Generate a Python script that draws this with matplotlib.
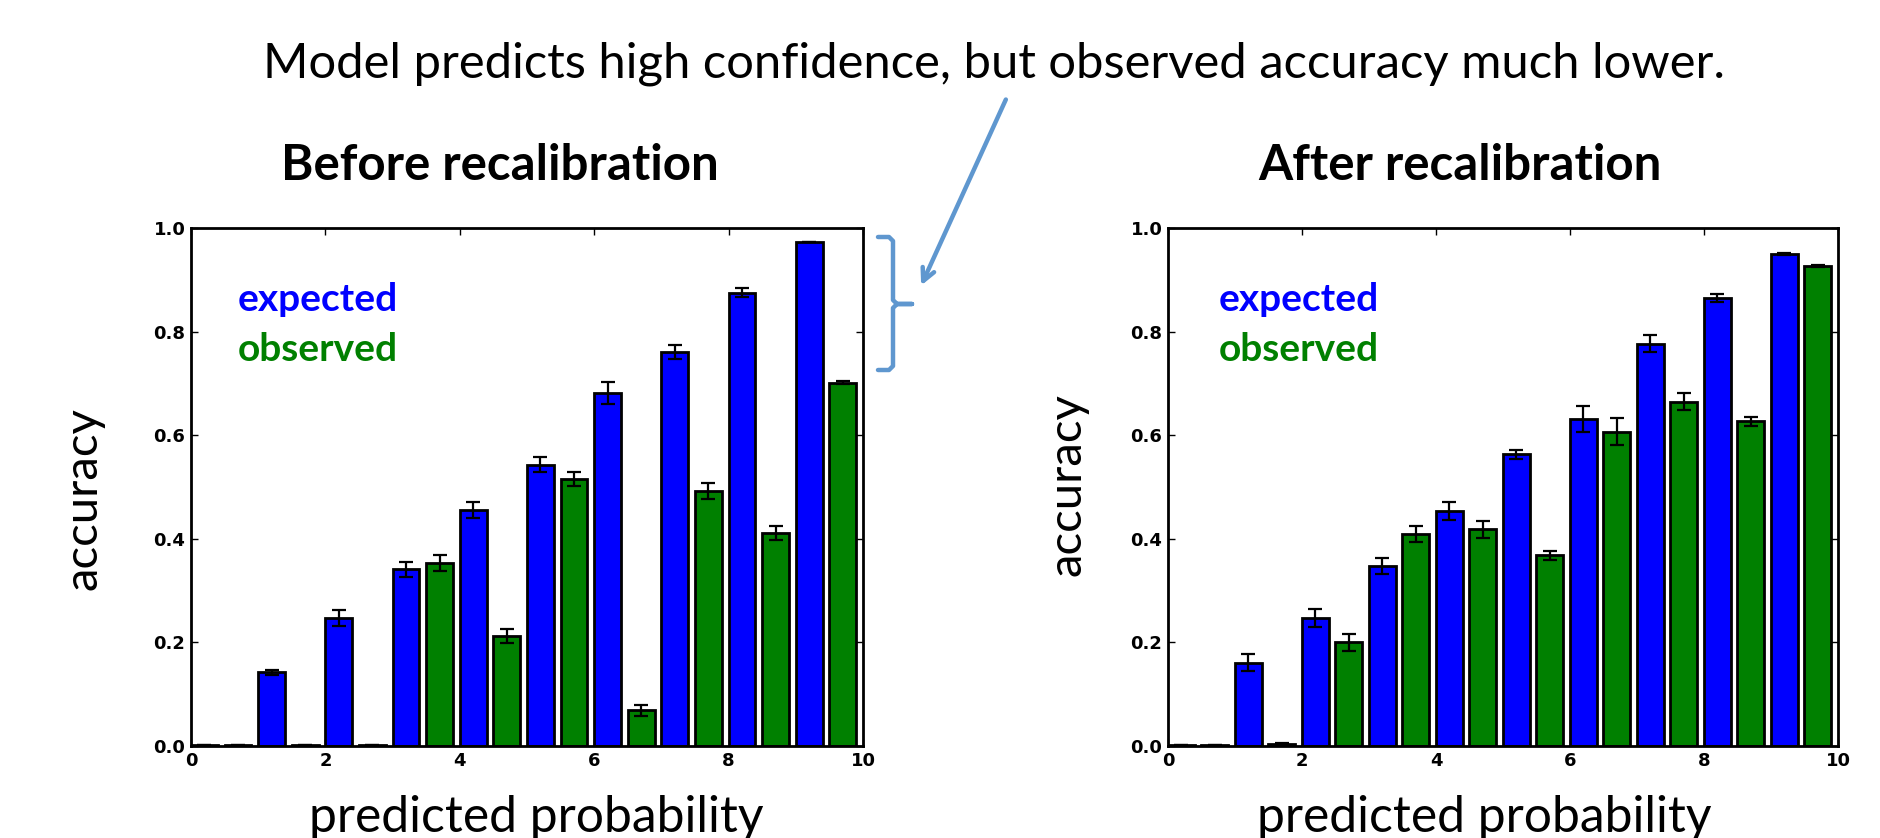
# -*- coding: utf-8 -*-

import matplotlib
matplotlib.use("Agg")
import matplotlib.pyplot as plt
from matplotlib.lines import Line2D
import numpy as np

# bin index (left edge of the expected bar), observed bar sits half a bin later
bins = [0, 1, 2, 3, 4, 5, 6, 7, 8, 9]

before_expected = [0.002, 0.142, 0.247, 0.341, 0.456, 0.543, 0.681, 0.761, 0.875, 0.973]
before_expected_err = [0.0, 0.004, 0.015, 0.014, 0.015, 0.015, 0.021, 0.013, 0.009, 0.0]
before_observed = [0.002, 0.002, 0.002, 0.353, 0.212, 0.515, 0.069, 0.492, 0.411, 0.701]
before_observed_err = [0.0, 0.0, 0.0, 0.015, 0.013, 0.014, 0.011, 0.015, 0.013, 0.003]

after_expected = [0.002, 0.161, 0.247, 0.348, 0.454, 0.563, 0.631, 0.777, 0.865, 0.950]
after_expected_err = [0.0, 0.017, 0.017, 0.015, 0.017, 0.009, 0.025, 0.016, 0.007, 0.002]
after_observed = [0.001, 0.003, 0.200, 0.409, 0.418, 0.368, 0.607, 0.665, 0.627, 0.927]
after_observed_err = [0.0, 0.002, 0.016, 0.015, 0.017, 0.008, 0.026, 0.017, 0.009, 0.002]

xticks = [0, 2, 4, 6, 8, 10]
yticks = [0.0, 0.2, 0.4, 0.6, 0.8, 1.0]

BLUE = "#0000ff"
GREEN = "#008000"
NOTE = "#5f97cf"
TXT = ["Lato", "DejaVu Sans"]

W, H = 1881, 838


def draw_panel(ax, exp, exp_err, obs, obs_err):
    x = np.array(bins, dtype=float)
    w = 0.4
    ax.bar(x, exp, width=w, align="edge", color=BLUE, edgecolor="black", linewidth=2)
    ax.bar(x + 0.5, obs, width=w, align="edge", color=GREEN, edgecolor="black", linewidth=2)
    ax.errorbar(x + w / 2, exp, yerr=exp_err, fmt="none", ecolor="black",
                elinewidth=1.6, capsize=5, capthick=1.6)
    ax.errorbar(x + 0.5 + w / 2, obs, yerr=obs_err, fmt="none", ecolor="black",
                elinewidth=1.6, capsize=5, capthick=1.6)
    ax.set_xlim(0, 10)
    ax.set_ylim(0, 1)
    ax.set_xticks(xticks)
    ax.set_yticks(yticks)
    ax.set_xticklabels([str(t) for t in xticks])
    ax.set_yticklabels(["%.1f" % t for t in yticks])
    ax.tick_params(direction="in", length=5, width=1, top=True, right=True,
                   labelsize=13, pad=4, colors="black")
    for lab in ax.get_xticklabels() + ax.get_yticklabels():
        lab.set_fontweight("bold")
    for s in ax.spines.values():
        s.set_linewidth(2)


def main():
    fig = plt.figure(figsize=(W / 100, H / 100), dpi=100)

    ax1 = fig.add_axes([191 / W, 1 - 746 / H, 672 / W, 518 / H])
    ax2 = fig.add_axes([1168 / W, 1 - 746 / H, 670 / W, 518 / H])

    draw_panel(ax1, before_expected, before_expected_err, before_observed, before_observed_err)
    draw_panel(ax2, after_expected, after_expected_err, after_observed, after_observed_err)

    for ax, xo in [(ax1, 0.07), (ax2, 0.076)]:
        ax.text(xo, 0.84, "expected", transform=ax.transAxes, color=BLUE,
                fontsize=28, fontweight="bold", family=TXT, va="baseline")
        ax.text(xo, 0.743, "observed", transform=ax.transAxes, color=GREEN,
                fontsize=28, fontweight="bold", family=TXT, va="baseline")

    # titles and labels
    fig.text(994 / W, 1 - 78 / H, "Model predicts high confidence, but observed accuracy much lower.",
             ha="center", va="baseline", fontsize=35.3, family=TXT)
    fig.text(500 / W, 1 - 180 / H, "Before recalibration", ha="center", va="baseline",
             fontsize=35.5, fontweight="bold", family=TXT)
    fig.text(1460 / W, 1 - 180 / H, "After recalibration", ha="center", va="baseline",
             fontsize=35.5, fontweight="bold", family=TXT)
    fig.text(536 / W, 6 / H, "predicted probability", ha="center", va="baseline",
             fontsize=35.8, family=TXT)
    fig.text(1484 / W, 6 / H, "predicted probability", ha="center", va="baseline",
             fontsize=35.8, family=TXT)
    fig.text(84 / W, 1 - 499 / H, "accuracy", rotation=90, ha="center", va="center",
             fontsize=34, family=TXT)
    fig.text(1068 / W, 1 - 485 / H, "accuracy", rotation=90, ha="center", va="center",
             fontsize=34, family=TXT)

    # bracket next to the top bars, in figure pixels (y measured from top)
    bx = [878, 889, 893, 893, 897, 912, 897, 893, 893, 889, 878]
    by = [237, 237, 241, 300, 304, 304, 304, 308, 366, 370, 370]
    fig.add_artist(Line2D(np.array(bx) / W, 1 - np.array(by) / H, color=NOTE, lw=3.2,
                          solid_joinstyle="round", solid_capstyle="round",
                          transform=fig.transFigure))

    # arrow from the note to the bracket
    fig.add_artist(plt.Annotation("", xy=(920, H - 288), xycoords="figure pixels",
                                  xytext=(1007, H - 97), textcoords="figure pixels",
                                  arrowprops=dict(arrowstyle="->,head_length=0.9,head_width=0.45",
                                                  color=NOTE, lw=3.2)))

    fig.savefig("out.png", dpi=100)


main()
